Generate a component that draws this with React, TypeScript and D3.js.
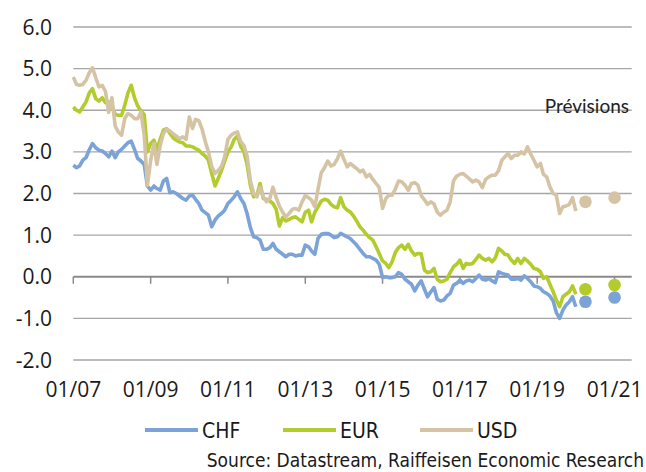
import React from "react";
import * as d3 from "d3";

const width = 646;
const height = 472;
const plot = { left: 73.3, right: 631.7, top: 27, bottom: 360 };

// monthly yields, Jan 2007 .. Jan 2020
const startYear = 2007;
const chf = [
  2.68, 2.62, 2.66, 2.8, 2.86, 3.05, 3.2, 3.1, 3.04, 3.02, 2.96, 2.88,
  3.02, 2.86, 3.0, 3.06, 3.14, 3.22, 3.26, 3.06, 2.84, 2.78, 2.7, 2.18,
  2.08, 2.18, 2.12, 2.08, 2.3, 2.36, 2.02, 2.04, 2.0, 1.94, 1.88, 1.84,
  1.94, 1.96, 1.86, 1.76, 1.6, 1.54, 1.48, 1.2, 1.36, 1.46, 1.52, 1.6,
  1.76, 1.84, 1.92, 2.04, 1.88, 1.76, 1.52, 1.18, 0.96, 0.94, 0.88, 0.66,
  0.66, 0.7, 0.8, 0.66, 0.6, 0.54, 0.48, 0.54, 0.54, 0.5, 0.52, 0.52,
  0.76, 0.72, 0.62, 0.54, 0.92, 1.02, 1.04, 1.04, 1.0, 0.94, 0.96, 1.04,
  1.0, 0.96, 0.92, 0.84, 0.76, 0.66, 0.56, 0.48, 0.48, 0.44, 0.4, 0.3,
  -0.02, 0.0, -0.02, -0.02, 0.0, 0.1, 0.06, -0.06, -0.12, -0.18, -0.34, -0.2,
  -0.1, -0.3, -0.48, -0.36, -0.26, -0.54, -0.58, -0.56, -0.46, -0.4, -0.2, -0.16,
  -0.08, -0.16, -0.1, -0.08, -0.12, -0.04, 0.04, -0.06, -0.08, -0.04, -0.1, -0.14,
  0.12, 0.08, 0.06, 0.04, -0.06, -0.06, -0.04, -0.08, 0.02, -0.04, -0.12, -0.22,
  -0.24, -0.28, -0.36, -0.4, -0.46, -0.58, -0.86, -1.0, -0.8, -0.68, -0.6, -0.48,
  -0.72,
];
const eur = [
  4.08, 4.0, 3.96, 4.08, 4.2, 4.42, 4.52, 4.28, 4.22, 4.3, 4.18, 4.2,
  4.1, 3.9, 3.88, 3.88, 4.12, 4.42, 4.6, 4.3, 4.1, 3.98, 3.9, 3.0,
  3.2, 3.28, 3.05, 3.3, 3.52, 3.56, 3.45, 3.34, 3.28, 3.24, 3.22, 3.14,
  3.14, 3.12, 3.08, 3.04, 2.96, 2.9, 2.8, 2.48, 2.18, 2.36, 2.55, 2.78,
  3.0, 3.12, 3.3, 3.38, 3.14, 3.0, 2.7, 2.2, 1.92, 1.95, 2.24, 1.88,
  1.86, 1.82, 1.76, 1.62, 1.22, 1.42, 1.34, 1.38, 1.42, 1.44, 1.38, 1.32,
  1.55, 1.6, 1.32, 1.55, 1.68, 1.82, 1.86, 1.84, 1.74, 1.68, 1.66, 1.9,
  1.68, 1.6, 1.56, 1.46, 1.34, 1.2, 1.12, 1.02, 0.94, 0.88, 0.72, 0.55,
  0.38, 0.32, 0.22, 0.36, 0.58, 0.7, 0.76, 0.66, 0.78, 0.62, 0.52, 0.56,
  0.55, 0.16, 0.1, 0.12, 0.2, -0.06, -0.12, -0.1, -0.06, 0.1, 0.24, 0.3,
  0.4, 0.2, 0.32, 0.3, 0.32, 0.42, 0.52, 0.44, 0.4, 0.44, 0.36, 0.45,
  0.68, 0.62, 0.54, 0.52, 0.4, 0.32, 0.44, 0.32, 0.44, 0.38, 0.3, 0.2,
  0.18, 0.12, -0.04, 0.0, -0.18, -0.36, -0.56, -0.72, -0.48, -0.42, -0.36, -0.22,
  -0.42,
];
const usd = [
  4.8, 4.62, 4.6, 4.62, 4.72, 4.9, 5.02, 4.78, 4.56, 4.6, 4.45, 3.95,
  4.3, 3.62, 3.48, 3.4, 3.8, 3.92, 3.88, 3.8, 3.8, 3.96, 3.4, 2.2,
  2.8, 3.2, 2.7, 3.15, 3.44, 3.55, 3.5, 3.44, 3.38, 3.32, 3.36, 3.3,
  3.84, 3.56, 3.78, 3.75, 3.55, 3.25, 3.0, 2.65, 2.48, 2.55, 2.65, 2.88,
  3.3, 3.4, 3.45, 3.48, 3.25, 3.15, 2.9, 2.3, 2.0, 1.92, 2.15, 1.92,
  1.8, 1.88, 2.15, 1.9, 1.7, 1.55, 1.44, 1.52, 1.62, 1.64, 1.6, 1.8,
  1.95, 1.9, 1.84, 1.68, 2.1, 2.5, 2.62, 2.78, 2.66, 2.7, 2.84, 3.02,
  2.82, 2.64, 2.72, 2.66, 2.6, 2.52, 2.56, 2.4, 2.46, 2.34, 2.24, 2.14,
  1.64, 1.88, 1.96, 1.96, 2.1, 2.3, 2.28, 2.2, 2.08, 2.24, 2.26, 2.2,
  1.95, 1.85, 1.74, 1.8, 1.75, 1.55, 1.48, 1.55, 1.6, 1.8, 2.3, 2.42,
  2.46, 2.48, 2.42, 2.35, 2.28, 2.32, 2.28, 2.14, 2.34, 2.4, 2.44, 2.44,
  2.55, 2.8, 2.88, 2.96, 2.84, 2.92, 2.92, 3.0, 2.95, 3.12, 2.95, 2.8,
  2.64, 2.72, 2.46, 2.4, 2.16, 2.0, 1.96, 1.52, 1.68, 1.7, 1.74, 1.9,
  1.58,
];

// forecasts
const forecastDates = [new Date(2020, 3, 1), new Date(2021, 0, 1)];
const chfForecast = [-0.6, -0.5];
const eurForecast = [-0.3, -0.2];
const usdForecast = [1.8, 1.9];

const yTicks = [-2, -1, 0, 1, 2, 3, 4, 5, 6];
const xTickYears = [2007, 2009, 2011, 2013, 2015, 2017, 2019, 2021];

const series = [
  { name: "CHF", values: chf, forecast: chfForecast, color: "#7ba3d7" },
  { name: "EUR", values: eur, forecast: eurForecast, color: "#b3cb2d" },
  { name: "USD", values: usd, forecast: usdForecast, color: "#d4c4a4" },
];

const x = d3
  .scaleTime()
  .domain([new Date(2007, 0, 1), new Date(2021, 5, 12)])
  .range([plot.left, plot.right]);
const y = d3.scaleLinear().domain([-2, 6]).range([plot.bottom, plot.top]);
const fmt = d3.timeFormat("%m/%y");

const numFont = "'Open Sans', 'DejaVu Sans', sans-serif";
const narrowFont = "'DejaVu Sans Condensed', 'DejaVu Sans', sans-serif";

export default function App() {
  const monthDate = (i: number) => new Date(startYear, i, 1);
  const line = d3
    .line<number>()
    .x((_, i) => x(monthDate(i)))
    .y((d) => y(d));

  const legendX = [145, 283, 420];

  return (
    <svg
      width={width}
      height={height}
      style={{ position: "absolute", left: 0, top: 0, background: "#fff" }}
    >
      {/* grid */}
      {yTicks.map((t) => (
        <line
          key={t}
          x1={plot.left}
          x2={plot.right}
          y1={y(t)}
          y2={y(t)}
          stroke={t === 0 ? "#8a8a8a" : "#a6a6a6"}
          strokeWidth={t === 0 ? 2 : 1.4}
        />
      ))}
      {xTickYears.map((yr) => (
        <line
          key={yr}
          x1={x(new Date(yr, 0, 1))}
          x2={x(new Date(yr, 0, 1))}
          y1={y(0)}
          y2={y(0) + 7}
          stroke="#8a8a8a"
          strokeWidth={1.5}
        />
      ))}

      {/* y labels */}
      {yTicks.map((t) => (
        <text
          key={t}
          x={52}
          y={y(t)}
          dy="0.36em"
          textAnchor="end"
          fontFamily={numFont}
          fontSize={21}
          fill="#1a1a1a"
        >
          {t.toFixed(1)}
        </text>
      ))}

      {/* x labels */}
      {xTickYears.map((yr) => (
        <text
          key={yr}
          x={x(new Date(yr, 0, 1))}
          y={397}
          textAnchor="middle"
          fontFamily={numFont}
          fontSize={21}
          fill="#1a1a1a"
        >
          {fmt(new Date(yr, 0, 1))}
        </text>
      ))}

      {/* lines */}
      {series.map((s) => (
        <path
          key={s.name}
          d={line(s.values) || ""}
          fill="none"
          stroke={s.color}
          strokeWidth={3.6}
          strokeLinejoin="round"
        />
      ))}

      {/* forecast dots */}
      {series.map((s) =>
        s.forecast.map((v, i) => (
          <circle
            key={s.name + i}
            cx={x(forecastDates[i])}
            cy={y(v)}
            r={6.3}
            fill={s.color}
          />
        ))
      )}

      <text
        x={629}
        y={113}
        textAnchor="end"
        fontFamily="Lato, sans-serif"
        fontSize={19}
        fill="#222"
      >
        Prévisions
      </text>

      {/* legend */}
      {series.map((s, i) => (
        <g key={s.name}>
          <line
            x1={legendX[i]}
            x2={legendX[i] + 53}
            y1={430}
            y2={430}
            stroke={s.color}
            strokeWidth={4}
          />
          <text
            x={legendX[i] + 57}
            y={437.5}
            fontFamily={narrowFont}
            fontSize={21}
            fill="#1a1a1a"
          >
            {s.name}
          </text>
        </g>
      ))}

      <text
        x={644}
        y={467}
        textAnchor="end"
        fontFamily={narrowFont}
        fontSize={19}
        fill="#1a1a1a"
      >
        Source: Datastream, Raiffeisen Economic Research
      </text>
    </svg>
  );
}
